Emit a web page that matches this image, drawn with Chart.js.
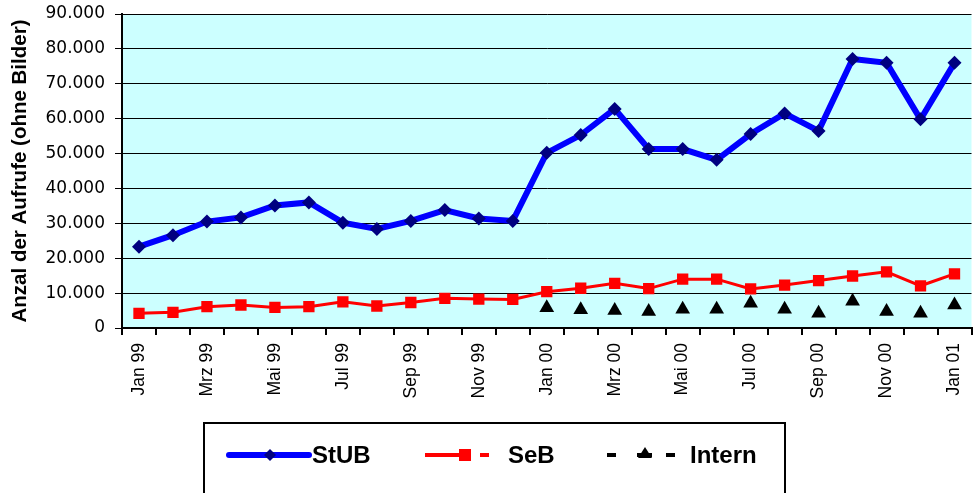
<!DOCTYPE html>
<html>
<head>
<meta charset="utf-8">
<script src="https://cdn.jsdelivr.net/npm/chart.js@4"></script>
<style>
  html, body { margin: 0; padding: 0; background: #fff; overflow: hidden; }
  #wrap { position: relative; width: 980px; height: 493px; }
</style>
</head>
<body>
<div id="wrap"><canvas id="chart" width="980" height="493"></canvas></div>
<script>
// months Jan 99 .. Jan 01 (German abbreviations as in the original)
var months = [
  "Jan 99", "Feb 99", "Mrz 99", "Apr 99", "Mai 99", "Jun 99",
  "Jul 99", "Aug 99", "Sep 99", "Okt 99", "Nov 99", "Dez 99",
  "Jan 00", "Feb 00", "Mrz 00", "Apr 00", "Mai 00", "Jun 00",
  "Jul 00", "Aug 00", "Sep 00", "Okt 00", "Nov 00", "Dez 00",
  "Jan 01"
];

var stub = [
  23300, 26600, 30500, 31700, 35100, 36000,
  30200, 28400, 30700, 33800, 31400, 30700,
  50200, 55300, 62800, 51300, 51300, 48200,
  55600, 61500, 56500, 77100, 76000, 59800,
  76000
];

var seb = [
  4200, 4500, 6100, 6600, 5900, 6100,
  7500, 6300, 7300, 8500, 8300, 8200,
  10400, 11400, 12800, 11300, 14000, 14000,
  11200, 12300, 13600, 14900, 16100, 12100,
  15500
];

// no values for 1999
var intern = [
  null, null, null, null, null, null,
  null, null, null, null, null, null,
  5800, 5200, 5000, 4700, 5400, 5400,
  7100, 5400, 4200, 7700, 4700, 4200,
  6600
];

var yTicks = [0, 10000, 20000, 30000, 40000, 50000, 60000, 70000, 80000, 90000];

function fmtDe(v) {
  if (v === 0) return "0";
  return Math.round(v / 1000) + ".000";
}

var plotBg = {
  id: "plotBg",
  beforeDraw: function (chart) {
    var a = chart.chartArea, ctx = chart.ctx;
    ctx.save();
    ctx.fillStyle = "#CCFFFF";
    ctx.fillRect(a.left, a.top, a.right - a.left, a.bottom - a.top);
    ctx.restore();
  }
};

// excel-style legend box below the axis
var boxLegend = {
  id: "boxLegend",
  afterDraw: function (chart) {
    var ctx = chart.ctx;
    var y = 455;
    ctx.save();
    ctx.fillStyle = "#fff";
    ctx.fillRect(204, 423, 581, 90);
    ctx.lineWidth = 2;
    ctx.strokeStyle = "#000";
    ctx.strokeRect(204, 423, 581, 90);

    // StUB
    ctx.lineCap = "round";
    ctx.strokeStyle = "#0000FF";
    ctx.lineWidth = 6;
    ctx.beginPath(); ctx.moveTo(229, y); ctx.lineTo(309, y); ctx.stroke();
    ctx.fillStyle = "#000080";
    ctx.beginPath();
    ctx.moveTo(270, y - 6); ctx.lineTo(276, y); ctx.lineTo(270, y + 6); ctx.lineTo(264, y);
    ctx.closePath(); ctx.fill();

    // SeB
    ctx.lineCap = "butt";
    ctx.strokeStyle = "#FF0000";
    ctx.lineWidth = 4;
    ctx.beginPath(); ctx.moveTo(425, y); ctx.lineTo(460, y); ctx.stroke();
    ctx.beginPath(); ctx.moveTo(480, y); ctx.lineTo(489, y); ctx.stroke();
    ctx.fillStyle = "#FF0000";
    ctx.fillRect(459, y - 6, 12, 12);

    // Intern
    ctx.strokeStyle = "#000";
    ctx.beginPath(); ctx.moveTo(607, y); ctx.lineTo(616, y); ctx.stroke();
    ctx.beginPath(); ctx.moveTo(666, y); ctx.lineTo(675, y); ctx.stroke();
    ctx.beginPath(); ctx.moveTo(637, y); ctx.lineTo(652, y); ctx.stroke();
    ctx.fillStyle = "#000";
    ctx.beginPath();
    ctx.moveTo(645, y - 8); ctx.lineTo(652, y + 3); ctx.lineTo(638, y + 3);
    ctx.closePath(); ctx.fill();

    ctx.font = "bold 24px 'Liberation Sans', Arial, sans-serif";
    ctx.textBaseline = "middle";
    ctx.fillStyle = "#000";
    ctx.fillText("StUB", 312, y + 1);
    ctx.fillText("SeB", 508, y + 1);
    ctx.fillText("Intern", 690, y + 1);
    ctx.restore();
  }
};

new Chart(document.getElementById("chart"), {
  type: "line",
  data: {
    labels: months,
    datasets: [
      { label: "StUB", data: stub,
        borderColor: "#0000FF", borderWidth: 6, tension: 0,
        pointStyle: "rectRot", pointRadius: 7, pointHoverRadius: 7,
        pointBackgroundColor: "#000080", pointBorderColor: "#000080", pointBorderWidth: 0 },
      { label: "SeB", data: seb,
        borderColor: "#FF0000", borderWidth: 3, tension: 0,
        pointStyle: "rect", pointRadius: 8, pointHoverRadius: 8,
        pointBackgroundColor: "#FF0000", pointBorderColor: "#FF0000", pointBorderWidth: 0 },
      { label: "Intern", data: intern, showLine: false,
        borderColor: "#000", borderDash: [6, 6],
        pointStyle: "triangle", pointRadius: 8.5, pointHoverRadius: 8.5,
        pointBackgroundColor: "#000", pointBorderColor: "#000", pointBorderWidth: 0 }
    ]
  },
  options: {
    responsive: false,
    animation: false,
    devicePixelRatio: 1,
    layout: { padding: { top: 14, right: 0, left: 0, bottom: 0 } },
    plugins: { legend: { display: false }, tooltip: { enabled: false } },
    scales: {
      x: {
        offset: true,
        afterFit: function (s) { s.height = 165; s.paddingLeft = 0; s.paddingRight = 0; },
        grid: { drawOnChartArea: false, drawTicks: true, tickLength: 7, color: "#000", lineWidth: 2, offset: true },
        border: { color: "#000", width: 2 },
        ticks: {
          autoSkip: false, minRotation: 90, maxRotation: 90, padding: 8,
          color: "#000",
          font: { family: "'Liberation Sans Narrow', 'Liberation Sans', Arial, sans-serif", size: 17.5 },
          callback: function (v, i) { return i % 2 === 0 ? months[i] : ""; }
        }
      },
      y: {
        min: 0, max: 90000,
        afterFit: function (s) { s.width = 122; s.paddingTop = 0; s.paddingBottom = 0; },
        afterBuildTicks: function (s) { s.ticks = yTicks.map(function (v) { return { value: v }; }); },
        grid: { color: "#000", lineWidth: 1, drawTicks: true, tickLength: 7 },
        border: { color: "#000", width: 2 },
        ticks: {
          padding: 10, color: "#000",
          font: { family: "'DejaVu Sans', sans-serif", size: 17 },
          callback: function (v) { return fmtDe(v); }
        },
        title: {
          display: true, text: "Anzal der Aufrufe (ohne Bilder)", color: "#000",
          font: { family: "'Liberation Sans', Arial, sans-serif", size: 20.5, weight: "bold" },
          padding: { top: 8, bottom: 0 }
        }
      }
    }
  },
  plugins: [plotBg, boxLegend]
});
</script>
</body>
</html>
